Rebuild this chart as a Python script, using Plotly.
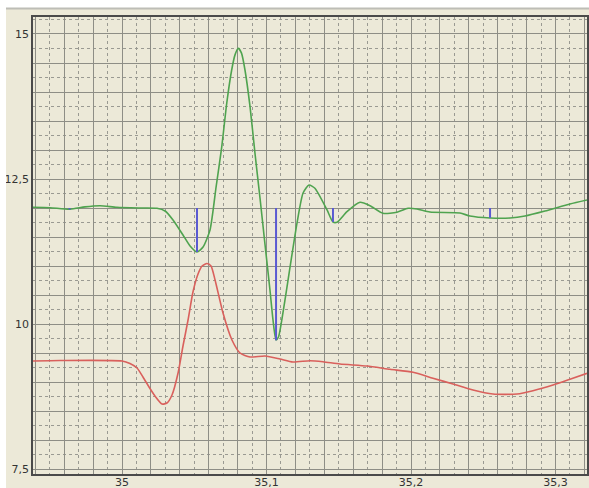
import plotly.graph_objects as go

# ---- data ----
green_x = [34.9384, 34.9502, 34.9640, 34.9744, 34.9848, 34.9965, 35.0125, 35.0242, 35.0298,
           35.0353, 35.0422, 35.0471, 35.0519, 35.0561, 35.0609, 35.0651, 35.0690, 35.0725,
           35.0759, 35.0782, 35.0805, 35.0827, 35.0851, 35.0886, 35.0920, 35.0955, 35.0990,
           35.1024, 35.1045, 35.1066, 35.1083, 35.1100, 35.1128, 35.1163, 35.1211, 35.1253,
           35.1294, 35.1335, 35.1419, 35.1460, 35.1488, 35.1557, 35.1647, 35.1716, 35.1806,
           35.1903, 35.1979, 35.2042, 35.2131, 35.2339, 35.2408, 35.2547, 35.2685, 35.2789,
           35.2927, 35.3100, 35.3218]
green_y = [12.012, 12.005, 11.978, 12.02, 12.040, 12.012, 12.0, 11.995, 11.948,
           11.793, 11.534, 11.345, 11.241, 11.328, 11.621, 12.362, 13.05, 13.81,
           14.379, 14.64, 14.753, 14.67, 14.379, 13.747, 12.948, 12.172, 11.362,
           10.586, 10.069, 9.724, 9.776, 9.983, 10.414, 10.983, 11.741, 12.259,
           12.397, 12.34, 11.966, 11.759, 11.754, 11.936, 12.098, 12.04, 11.909,
           11.926, 11.995, 11.983, 11.931, 11.914, 11.862, 11.828, 11.828, 11.862,
           11.948, 12.069, 12.138]

red_x = [34.9384, 34.9571, 35.0, 35.0055, 35.0104, 35.0145, 35.0187, 35.0228, 35.0277, 35.0311,
         35.0346, 35.0388, 35.0422, 35.0457, 35.0491, 35.0526, 35.0554, 35.0588, 35.0616,
         35.0644, 35.0699, 35.0761, 35.0817, 35.0886, 35.0990, 35.1093, 35.1183, 35.1301,
         35.1391, 35.1509, 35.1696, 35.1855, 35.2014, 35.2152, 35.2291, 35.2429, 35.2567,
         35.2734, 35.2844, 35.2983, 35.3100, 35.3218]
red_y = [9.362, 9.371, 9.362, 9.319, 9.241, 9.086, 8.914, 8.759, 8.621, 8.638,
         8.776, 9.155, 9.621, 10.069, 10.552, 10.862, 11.0, 11.043, 11.0,
         10.759, 10.190, 9.724, 9.5, 9.431, 9.448, 9.397, 9.345, 9.367,
         9.35, 9.31, 9.276, 9.219, 9.167, 9.064, 8.966, 8.862, 8.793,
         8.793, 8.85, 8.948, 9.047, 9.15]

marker_x = [34.9637, 35.0519, 35.1066, 35.1460, 35.2547]
marker_top = [12.0, 12.0, 12.0, 12.0, 12.0]
marker_bottom = [11.975, 11.24, 9.72, 11.76, 11.83]

x_tick_values = [35.0, 35.1, 35.2, 35.3]
x_tick_labels = ["35", "35,1", "35,2", "35,3"]
y_tick_values = [7.5, 10.0, 12.5, 15.0]
y_tick_labels = ["7,5", "10", "12,5", "15"]

X_RANGE = [34.9384, 35.3218]
Y_RANGE = [7.414, 15.293]

W, H = 589, 488
ML, MR, MT, MB = 33, 2, 17, 14
PW, PH = W - ML - MR, H - MT - MB


def grid_ticks(start, stop, step, label_vals, label_texts):
    vals, texts = [], []
    n = int(round((stop - start) / step))
    for i in range(n + 1):
        v = round(start + i * step, 4)
        vals.append(v)
        t = ""
        for lv, lt in zip(label_vals, label_texts):
            if abs(lv - v) < 1e-6:
                t = lt
        texts.append(t)
    return vals, texts


xv, xt = grid_ticks(34.94, 35.32, 0.02, x_tick_values, x_tick_labels)
yv, yt = grid_ticks(7.5, 15.0, 0.5, y_tick_values, y_tick_labels)

bx, by = [], []
for x, t, b in zip(marker_x, marker_top, marker_bottom):
    bx += [x, x, None]
    by += [t, b, None]

fig = go.Figure()
fig.add_trace(go.Scatter(x=red_x, y=red_y, mode="lines",
                         line=dict(color="#d9605c", width=1.6, shape="spline", smoothing=0.6),
                         hoverinfo="skip"))
fig.add_trace(go.Scatter(x=green_x, y=green_y, mode="lines",
                         line=dict(color="#4fa34f", width=1.6, shape="spline", smoothing=0.6),
                         hoverinfo="skip"))
fig.add_trace(go.Scatter(x=bx, y=by, mode="lines",
                         line=dict(color="#5a5ad2", width=2),
                         hoverinfo="skip"))

bg = "#ECE9D8"
axis_common = dict(
    showline=True, mirror=True, linecolor="#4a4a4a", linewidth=1.5,
    showgrid=True, gridcolor="#8e8e86", gridwidth=1,
    zeroline=False, ticks="", automargin=False,
    tickfont=dict(family="DejaVu Sans", size=11, color="#333333"),
)


def px_to_paper_y(py):
    return 1 - (py - MT) / PH


def px_to_paper_x(px):
    return (px - ML) / PW


fig.update_layout(
    template="none",
    width=W, height=H,
    margin=dict(l=ML, r=MR, t=MT, b=MB),
    paper_bgcolor=bg, plot_bgcolor=bg,
    showlegend=False,
    xaxis=dict(range=X_RANGE, tickmode="array", tickvals=xv, ticktext=xt,
               ticklabelstandoff=-3,
               minor=dict(tickmode="linear", tick0=34.95, dtick=0.02, showgrid=True,
                          gridcolor="#9a9a92", griddash="3px,3px", gridwidth=1, ticks=""),
               **axis_common),
    yaxis=dict(range=Y_RANGE, tickmode="array", tickvals=yv, ticktext=yt,
               minor=dict(tickmode="linear", tick0=7.25, dtick=0.5, showgrid=True,
                          gridcolor="#9a9a92", griddash="3px,3px", gridwidth=1, ticks=""),
               **axis_common),
    shapes=[
        dict(type="rect", xref="paper", yref="paper",
             x0=px_to_paper_x(0), x1=px_to_paper_x(W),
             y0=px_to_paper_y(8), y1=px_to_paper_y(0),
             fillcolor="white", line=dict(width=0), layer="above"),
        dict(type="rect", xref="paper", yref="paper",
             x0=px_to_paper_x(0), x1=px_to_paper_x(6),
             y0=px_to_paper_y(H), y1=px_to_paper_y(8),
             fillcolor="white", line=dict(width=0), layer="above"),
        dict(type="line", xref="paper", yref="paper",
             x0=px_to_paper_x(6), x1=px_to_paper_x(W),
             y0=px_to_paper_y(8.5), y1=px_to_paper_y(8.5),
             line=dict(color="#bdbdb6", width=2), layer="above"),
    ],
)

fig.write_html("out.html",
               config={"displayModeBar": False},
               post_script="document.body.style.margin='0';document.body.style.overflow='hidden';")
